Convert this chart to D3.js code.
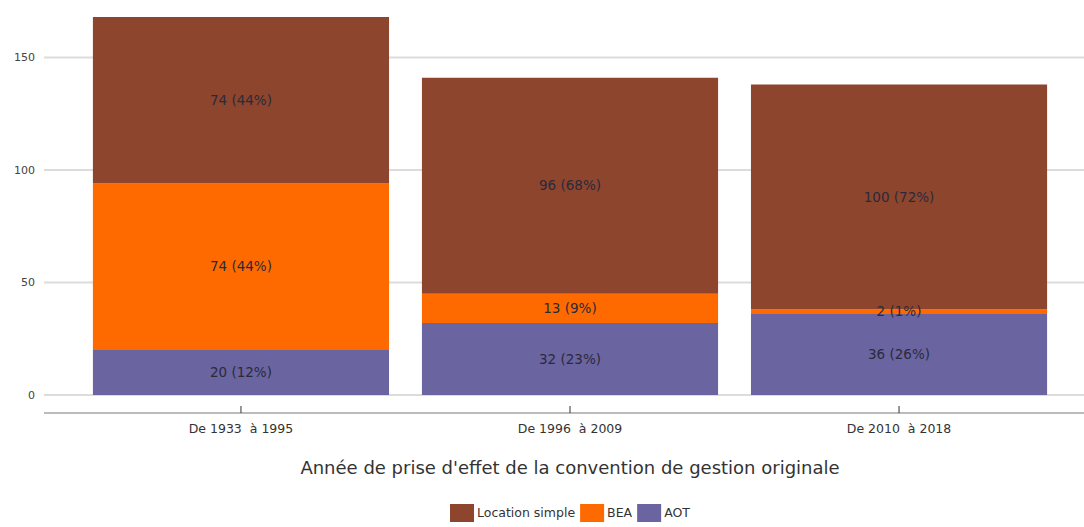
<!DOCTYPE html>
<html><head><meta charset="utf-8">
<script src="https://cdn.jsdelivr.net/npm/d3@7"></script>
<style>body{margin:0;background:#fff;} text{font-family:"DejaVu Sans",Verdana,sans-serif;}</style>
</head><body>
<svg id="c" width="1084" height="527"></svg>
<script>
const categories = ["De 1933  à 1995", "De 1996  à 2009", "De 2010  à 2018"];
const seriesNames = ["AOT", "BEA", "Location simple"];
const aot = [20, 32, 36];
const bea = [74, 13, 2];
const locationSimple = [74, 96, 100];
const pctAot = ["12%", "23%", "26%"];
const pctBea = ["44%", "9%", "1%"];
const pctLoc = ["44%", "68%", "72%"];
const yTicks = [0, 50, 100, 150];
const colors = {"AOT": "#6a64a0", "BEA": "#ff6a00", "Location simple": "#8d452e"};
const xTitle = "Année de prise d'effet de la convention de gestion originale";
const legendOrder = ["Location simple", "BEA", "AOT"];

const svg = d3.select("#c");
const x = d3.scaleBand().domain(categories).range([60, 1080]).padding(0.1);
const y = d3.scaleLinear().domain([0, 150]).range([395, 57.5]);

// grid
svg.append("g").selectAll("line").data(yTicks).join("line")
  .attr("x1", 44).attr("x2", 1084)
  .attr("y1", d => y(d)).attr("y2", d => y(d))
  .attr("stroke", "#dcdcdc").attr("stroke-width", 2);
svg.append("g").selectAll("text").data(yTicks).join("text")
  .attr("x", 35).attr("y", d => y(d)).attr("dy", "0.35em")
  .attr("text-anchor", "end").attr("font-size", 11).attr("fill", "#444")
  .text(d => d);

const rows = categories.map((c, i) => ({cat: c, "AOT": aot[i], "BEA": bea[i], "Location simple": locationSimple[i],
  pct: {"AOT": pctAot[i], "BEA": pctBea[i], "Location simple": pctLoc[i]}}));
const stack = d3.stack().keys(seriesNames)(rows);

const g = svg.append("g");
stack.forEach(layer => {
  g.append("g").selectAll("rect").data(layer).join("rect")
    .attr("x", d => x(d.data.cat)).attr("width", x.bandwidth())
    .attr("y", d => y(d[1])).attr("height", d => y(d[0]) - y(d[1]))
    .attr("fill", colors[layer.key]);
});
stack.forEach(layer => {
  g.append("g").selectAll("text").data(layer).join("text")
    .attr("x", d => x(d.data.cat) + x.bandwidth() / 2)
    .attr("y", d => y((d[0] + d[1]) / 2))
    .attr("dy", "0.35em").attr("text-anchor", "middle")
    .attr("font-size", 13.5).attr("fill", "#2a2a3a")
    .text(d => `${d.data[layer.key]} (${d.data.pct[layer.key]})`);
});

// x axis
const axisY = 413;
svg.append("line").attr("x1", 44).attr("x2", 1084).attr("y1", axisY).attr("y2", axisY)
  .attr("stroke", "#bbb").attr("stroke-width", 2);
svg.append("g").selectAll("line").data(categories).join("line")
  .attr("x1", d => x(d) + x.bandwidth() / 2).attr("x2", d => x(d) + x.bandwidth() / 2)
  .attr("y1", 406).attr("y2", 413).attr("stroke", "#333").attr("stroke-width", 1);
svg.append("g").selectAll("text").data(categories).join("text")
  .attr("x", d => x(d) + x.bandwidth() / 2).attr("y", 433)
  .attr("text-anchor", "middle").attr("font-size", 12.5).attr("fill", "#333")
  .attr("xml:space", "preserve")
  .text(d => d);

svg.append("text").attr("x", 570).attr("y", 474).attr("text-anchor", "middle")
  .attr("font-size", 18).attr("fill", "#333").text(xTitle);

// legend
const leg = svg.append("g");
let lx = 450;
legendOrder.forEach(k => {
  leg.append("rect").attr("x", lx).attr("y", 504).attr("width", 24).attr("height", 18).attr("fill", colors[k]);
  const t = leg.append("text").attr("x", lx + 27).attr("y", 513).attr("dy", "0.35em")
    .attr("font-size", 12.5).attr("fill", "#333").text(k);
  lx += 27 + t.node().getComputedTextLength() + 5;
});
</script>
</body></html>
